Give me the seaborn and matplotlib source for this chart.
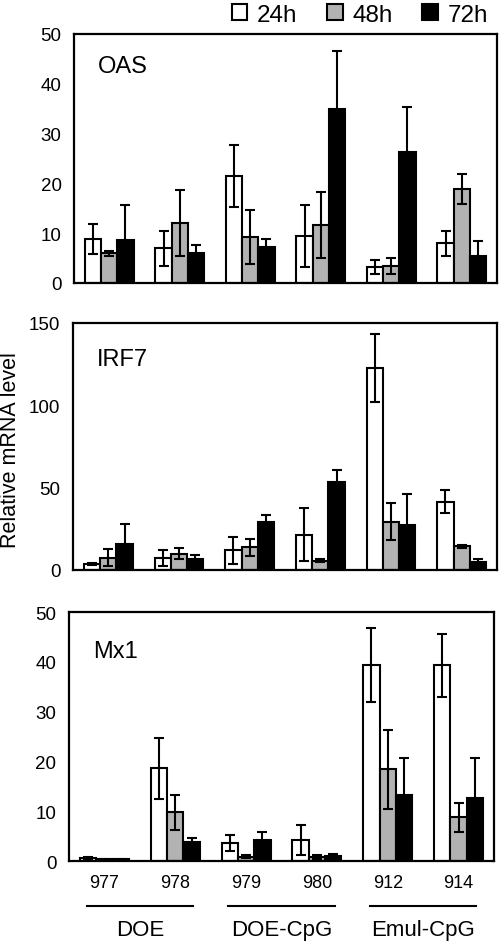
import matplotlib
matplotlib.use("Agg")
import matplotlib.pyplot as plt
import pandas as pd
import numpy as np
import seaborn as sns
from matplotlib.patches import Patch

# sample ids, vaccine groups and time points
samples = ["977", "978", "979", "980", "912", "914"]
groups = ["DOE", "DOE-CpG", "Emul-CpG"]
times = ["24h", "48h", "72h"]
genes = ["OAS", "IRF7", "Mx1"]

# mean values (rows = 24h, 48h, 72h; columns = samples)
oas_mean = [[8.8, 7.0, 21.5, 9.5, 3.3, 8.0],
            [6.0, 12.0, 9.3, 11.7, 3.5, 18.8],
            [8.7, 6.0, 7.3, 35.0, 26.3, 5.5]]
oas_err = [[3.0, 3.5, 6.2, 6.2, 1.4, 2.5],
           [0.5, 6.6, 5.4, 6.6, 1.6, 3.0],
           [7.0, 1.6, 1.6, 11.5, 9.0, 3.0]]

irf7_mean = [[3.5, 7.4, 12.0, 21.5, 122.7, 41.4],
             [7.5, 10.0, 13.7, 5.5, 29.4, 14.3],
             [15.5, 6.8, 29.4, 53.5, 27.5, 4.8]]
irf7_err = [[0.6, 5.0, 8.2, 16.0, 20.7, 7.0],
            [5.0, 3.5, 5.2, 0.9, 11.4, 1.0],
            [12.5, 2.4, 4.2, 7.4, 18.5, 1.6]]

mx1_mean = [[0.6, 18.6, 3.6, 4.3, 39.3, 39.3],
            [0.4, 9.8, 0.9, 0.9, 18.4, 8.8],
            [0.4, 3.9, 4.3, 1.1, 13.2, 12.6]]
mx1_err = [[0.2, 6.2, 1.6, 3.0, 7.4, 6.3],
           [0.1, 3.5, 0.3, 0.4, 7.9, 2.9],
           [0.1, 0.7, 1.6, 0.4, 7.5, 8.0]]

y_max = [50, 150, 50]
y_ticks = [[0, 10, 20, 30, 40, 50], [0, 50, 100, 150], [0, 10, 20, 30, 40, 50]]

colors = ["white", "#b2b2b2", "black"]

plt.rcParams["font.family"] = ["Liberation Sans", "DejaVu Sans"]
fig = plt.figure(figsize=(5, 9.45), dpi=100)

panel_rects = [[0.148, 0.6995, 0.846, 0.2635],
               [0.146, 0.3958, 0.848, 0.2614],
               [0.138, 0.0878, 0.850, 0.2635]]
label_y = [0.87, 0.855, 0.845]
means = [oas_mean, irf7_mean, mx1_mean]
errs = [oas_err, irf7_err, mx1_err]

for i, gene in enumerate(genes):
    ax = fig.add_axes(panel_rects[i])
    df = pd.DataFrame({
        "sample": np.tile(samples, len(times)),
        "time": np.repeat(times, len(samples)),
        "value": np.ravel(means[i]),
    })
    sns.barplot(data=df, x="sample", y="value", hue="time", order=samples,
                hue_order=times, palette=colors, width=0.69, edgecolor="black",
                linewidth=1.5, legend=False, ax=ax)
    # error bars placed on the drawn bars
    bar_sets = list(ax.containers)
    for j, cont in enumerate(bar_sets):
        xs = [p.get_x() + p.get_width() / 2 for p in cont.patches]
        hs = [p.get_height() for p in cont.patches]
        ax.errorbar(xs, hs, yerr=errs[i][j], fmt="none", ecolor="black",
                    elinewidth=1.5, capsize=3.5, capthick=1.5, zorder=5)
    ax.set_ylim(0, y_max[i])
    ax.set_xlim(-0.5, 5.5)
    ax.set_yticks(y_ticks[i])
    ax.tick_params(axis="y", length=0, pad=9, labelsize=13.5)
    ax.set_xlabel("")
    ax.set_ylabel("")
    for sp in ax.spines.values():
        sp.set_linewidth(1.6)
    ax.text(0.056, label_y[i], gene, transform=ax.transAxes, fontsize=17,
            va="center", ha="left")
    if i < 2:
        ax.set_xticks([])
    else:
        ax.tick_params(axis="x", length=0, pad=9, labelsize=13)
        # group bars and labels below the sample ids
        for g, name in enumerate(groups):
            x0, x1 = 2 * g - 0.25, 2 * g + 1.25
            ax.plot([x0, x1], [-0.18, -0.18], color="black", lw=1.5,
                    transform=ax.get_xaxis_transform(), clip_on=False)
            ax.text(2 * g + 0.5, -0.275, name, transform=ax.get_xaxis_transform(),
                    ha="center", va="center", fontsize=16)

fig.text(0.021, 0.524, "Relative mRNA level", rotation=90, ha="center",
         va="center", fontsize=15.5)

handles = [Patch(facecolor=c, edgecolor="black", linewidth=1.5) for c in colors]
fig.legend(handles, times, loc="upper right", bbox_to_anchor=(1.0, 1.008),
           ncol=3, frameon=False, fontsize=17.5, handlelength=0.65,
           handleheight=0.65, handletextpad=0.4, columnspacing=1.2,
           borderaxespad=0.1)

fig.savefig("out.png", dpi=100)
